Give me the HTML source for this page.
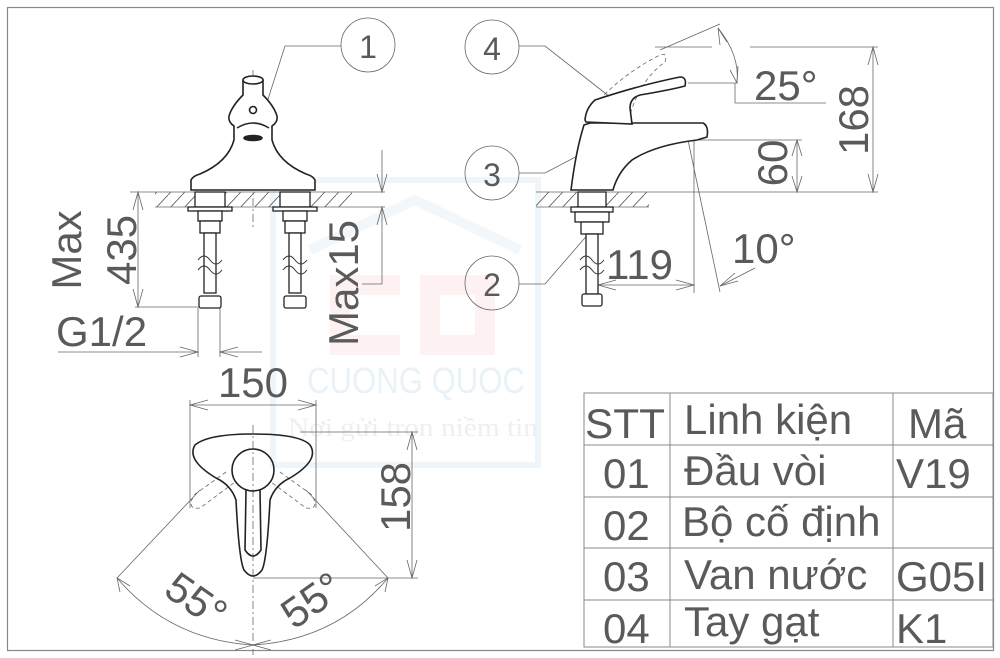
<!DOCTYPE html>
<html><head><meta charset="utf-8"><style>
html,body{margin:0;padding:0;background:#fff;}
svg{display:block;}
text{font-family:"Liberation Sans",sans-serif;fill:#5a5a5a;}
</style></head><body>
<svg width="1000" height="658" viewBox="0 0 1000 658" xmlns="http://www.w3.org/2000/svg">
<defs>
<pattern id="h" width="14" height="15" patternUnits="userSpaceOnUse"><path d="M0 15 L14 0" stroke="#555" stroke-width="0.8"/></pattern>
</defs>
<g>
<rect x="273" y="180" width="265" height="285" fill="none" stroke="#eef6fb" stroke-width="6"/>
<path d="M330 275 h70 v20 h-50 v40 h50 v20 h-70 z" fill="#fdf1f1"/>
<path d="M420 275 h75 v80 h-75 z M440 295 v40 h35 v-40 z" fill="#fdf1f1" fill-rule="evenodd"/>
<path d="M310 250 L415 200 L520 250" fill="none" stroke="#f1f7fb" stroke-width="10"/>
<text x="307" y="393" font-size="36" textLength="218" lengthAdjust="spacingAndGlyphs" style="fill:#e8f2f9">CUONG QUOC</text>
<text x="288" y="436" font-size="26" textLength="250" lengthAdjust="spacingAndGlyphs" style="fill:#efeff3;font-family:'Liberation Serif',serif">Nơi gửi trọn niềm tin</text>
</g>
<rect x="7.5" y="7.5" width="986" height="643" fill="none" stroke="#888" stroke-width="1.2"/>

<g fill="none" stroke="#666" stroke-width="0.8">
<rect x="155" y="192" width="197" height="15" fill="url(#h)" stroke="none"/>
<line x1="155" y1="192" x2="385" y2="192"/>
<line x1="155" y1="207" x2="385" y2="207"/>
<line x1="253" y1="70" x2="253" y2="230" stroke-dasharray="8,3,2,3"/>
<circle cx="368" cy="45" r="27"/>
<text x="368" y="58" font-size="32" text-anchor="middle" stroke="none">1</text>
<polyline points="341,46 285,46 255,140"/>
<line x1="138" y1="192" x2="138" y2="307"/>
<line x1="130" y1="192" x2="155" y2="192"/>
<line x1="135" y1="307" x2="200" y2="307"/>
<path d="M133 210 L138 192 L143 210 M133 289 L138 307 L143 289"/>
<text transform="translate(81,250) rotate(-90)" font-size="42" text-anchor="middle" stroke="none">Max</text>
<text transform="translate(136,250) rotate(-90)" font-size="42" text-anchor="middle" stroke="none">435</text>
<line x1="198" y1="308" x2="198" y2="357"/>
<line x1="220" y1="308" x2="220" y2="357"/>
<line x1="58" y1="352" x2="198" y2="352"/>
<line x1="220" y1="352" x2="262" y2="352"/>
<path d="M180 347 L198 352 L180 357 M238 347 L220 352 L238 357"/>
<text x="56" y="346" font-size="42" stroke="none">G1/2</text>
<line x1="382" y1="150" x2="382" y2="192"/>
<line x1="382" y1="207" x2="382" y2="284"/>
<line x1="382" y1="284" x2="362" y2="284"/>
<path d="M377 174 L382 192 L387 174 M377 225 L382 207 L387 225"/>
<text transform="translate(358,283) rotate(-90)" font-size="42" text-anchor="middle" stroke="none">Max15</text>
</g>
<g fill="#fff" stroke="#222" stroke-width="1.6">
<path d="M191 190 L191 180 Q193 176 200 174 Q228 162 234 140 L234 126 Q228 122 229 116 Q232 106 243 95 L243 80 Q253 74 263 80 L263 95 Q274 106 277 116 Q278 122 272 126 L272 140 Q278 162 306 174 Q313 176 315 180 L315 190 Z"/>
<ellipse cx="253" cy="80" rx="10" ry="4"/>
<circle cx="253" cy="110" r="3.5"/>
<path d="M237 128 Q253 118 269 128" fill="none"/>
<ellipse cx="253" cy="138" rx="9" ry="2.5" fill="#222"/>
<g stroke-width="1.3">
<rect x="195" y="192" width="30" height="15"/><rect x="280" y="192" width="30" height="15"/>
<rect x="188" y="207" width="44" height="4"/><rect x="273" y="207" width="44" height="4"/>
<rect x="198" y="211" width="24" height="10"/><rect x="283" y="211" width="24" height="10"/>
<rect x="200" y="221" width="20" height="12"/><rect x="285" y="221" width="20" height="12"/>
<rect x="204" y="233" width="12" height="60"/><rect x="289" y="233" width="12" height="60"/>
<rect x="199" y="296" width="22" height="12" rx="2"/><rect x="284" y="296" width="22" height="12" rx="2"/>
</g>
</g>
<g fill="none" stroke="#333" stroke-width="1">
<path d="M198 260 q6 -8 12 0 t12 0 M198 270 q6 -8 12 0 t12 0"/>
<path d="M283 260 q6 -8 12 0 t12 0 M283 270 q6 -8 12 0 t12 0"/>
</g>

<g fill="none" stroke="#666" stroke-width="0.8">
<rect x="536" y="192" width="113" height="15" fill="url(#h)" stroke="none"/>
<line x1="536" y1="192" x2="878" y2="192"/>
<line x1="536" y1="207" x2="649" y2="207"/>
<circle cx="492" cy="47" r="27"/><text x="492" y="60" font-size="32" text-anchor="middle" stroke="none">4</text>
<circle cx="492" cy="173" r="27"/><text x="492" y="186" font-size="32" text-anchor="middle" stroke="none">3</text>
<circle cx="492" cy="283" r="27"/><text x="492" y="296" font-size="32" text-anchor="middle" stroke="none">2</text>
<polyline points="519,46 545,46 610,97"/>
<polyline points="519,173 545,173 608,140"/>
<polyline points="519,284 545,284 590,232"/>
<path d="M590 110 Q620 75 660 55 Q668 52 665 62 Q640 80 630 115" stroke-dasharray="4,3"/>
<line x1="660" y1="50" x2="720" y2="24"/>
<line x1="655" y1="47" x2="712" y2="47"/>
<path d="M718 28 Q740 55 737 83"/>
<path d="M720 45 L718 28 L727 42 M730 70 L737 83 L738 66"/>
<line x1="688" y1="83" x2="737" y2="83"/>
<line x1="735" y1="83" x2="735" y2="103"/>
<line x1="735" y1="103" x2="826" y2="103"/>
<text x="754" y="100" font-size="42" stroke="none">25°</text>
<line x1="750" y1="47" x2="878" y2="47"/>
<line x1="873" y1="47" x2="873" y2="192"/>
<path d="M868 65 L873 47 L878 65 M868 174 L873 192 L878 174"/>
<text transform="translate(868,120) rotate(-90)" font-size="42" text-anchor="middle" stroke="none">168</text>
<line x1="694" y1="140" x2="802" y2="140"/>
<line x1="797" y1="140" x2="797" y2="192"/>
<path d="M792 156 L797 140 L802 156 M792 176 L797 192 L802 176"/>
<text transform="translate(787,163) rotate(-90)" font-size="42" text-anchor="middle" stroke="none">60</text>
<line x1="694" y1="140" x2="694" y2="293"/>
<line x1="598" y1="285" x2="694" y2="285"/>
<path d="M616 280 L598 285 L616 290 M676 280 L694 285 L676 290"/>
<text x="606" y="279" font-size="42" stroke="none">119</text>
<line x1="688" y1="140" x2="720" y2="292"/>
<line x1="720" y1="286" x2="755" y2="268"/>
<path d="M735 273 L720 286 L738 281"/>
<text x="732" y="263" font-size="42" stroke="none">10°</text>
</g>
<g fill="#fff" stroke="#222" stroke-width="1.6">
<path d="M571 190 Q576 150 584 125 L590 123 L703 123 Q709 126 707 137 L697 140 Q655 145 632 160 Q618 172 613 190 Z"/>
<path d="M585 120 Q586 108 595 100 Q640 85 680 77 Q687 77 685 86 Q670 90 640 95 Q630 98 630 108 L632 124 L586 122 Z"/>
<g stroke-width="1.3">
<rect x="578" y="192" width="28" height="15"/>
<rect x="571" y="207" width="42" height="5"/>
<rect x="575" y="212" width="34" height="10"/>
<rect x="581" y="222" width="22" height="12"/>
<rect x="586" y="234" width="12" height="60"/>
<rect x="582" y="294" width="20" height="12" rx="2"/>
</g>
</g>
<path d="M580 260 q6 -8 12 0 t12 0 M580 270 q6 -8 12 0 t12 0" fill="none" stroke="#333"/>

<g fill="none" stroke="#666" stroke-width="0.8">
<line x1="190" y1="400" x2="190" y2="508"/>
<line x1="316" y1="400" x2="316" y2="508"/>
<line x1="190" y1="405" x2="316" y2="405"/>
<path d="M208 400 L190 405 L208 410 M298 400 L316 405 L298 410"/>
<text x="253" y="397" font-size="42" text-anchor="middle" stroke="none">150</text>
<line x1="300" y1="432" x2="418" y2="432"/>
<line x1="253" y1="578" x2="418" y2="578"/>
<line x1="412" y1="432" x2="412" y2="578"/>
<path d="M407 450 L412 432 L417 450 M407 560 L412 578 L417 560"/>
<text transform="translate(410,497) rotate(-90)" font-size="42" text-anchor="middle" stroke="none">158</text>
<line x1="253" y1="425" x2="253" y2="655" stroke-dasharray="8,3,2,3"/>
<line x1="200" y1="490" x2="117" y2="578"/>
<line x1="306" y1="490" x2="388" y2="578"/>
<path d="M117 578 Q170 640 253 645 Q336 640 388 578"/>
<path d="M120 592 L117 578 L130 586 M385 592 L388 578 L375 586 M235 640 L253 645 L235 650 M271 640 L253 645 L271 650"/>
<text transform="translate(188,612) rotate(35)" font-size="42" text-anchor="middle" stroke="none">55°</text>
<text transform="translate(320,612) rotate(-35)" font-size="42" text-anchor="middle" stroke="none">55°</text>
<path d="M226 472 L194 495 Q186 510 200 508 L235 482" stroke-dasharray="4,3"/>
<path d="M280 472 L312 495 Q320 510 306 508 L271 482" stroke-dasharray="4,3"/>
</g>
<g fill="none" stroke="#222" stroke-width="1.6">
<path d="M195 445 Q208 434 253 434 Q300 434 310 445 Q320 460 290 478 Q275 485 270 500 Q267 560 262 570 Q253 582 244 570 Q239 560 236 500 Q231 485 216 478 Q186 460 195 445 Z"/>
<circle cx="253" cy="470" r="21"/>
<path d="M246 490 L245 550 Q253 562 261 550 L260 490"/>
</g>

<g fill="none" stroke="#888" stroke-width="1">
<rect x="584" y="393" width="409" height="254"/>
<line x1="670" y1="393" x2="670" y2="647"/>
<line x1="893" y1="393" x2="893" y2="647"/>
<line x1="584" y1="445" x2="993" y2="445"/>
<line x1="584" y1="497" x2="993" y2="497"/>
<line x1="584" y1="548" x2="993" y2="548"/>
<line x1="584" y1="600" x2="993" y2="600"/>
</g>
<g font-size="42">
<text x="585" y="438" textLength="80" lengthAdjust="spacingAndGlyphs">STT</text><text x="684" y="434">Linh kiện</text><text x="908" y="438">Mã</text>
<text x="603" y="488">01</text><text x="684" y="485">Đầu vòi</text><text x="896" y="488">V19</text>
<text x="603" y="540">02</text><text x="682" y="536">Bộ cố định</text>
<text x="603" y="591">03</text><text x="684" y="589">Van nước</text><text x="896" y="591">G05I</text>
<text x="603" y="643">04</text><text x="684" y="636">Tay gạt</text><text x="896" y="643">K1</text>
</g>
</svg>
</body></html>
